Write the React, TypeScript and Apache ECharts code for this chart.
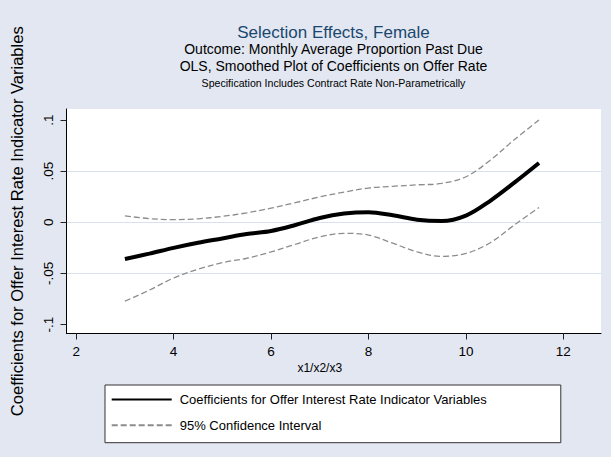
import React, { useEffect, useRef } from "react";
import * as echarts from "echarts";

// ---- data ----
const xValues = [3, 3.5, 4, 4.5, 5, 5.5, 6, 6.5, 7, 7.5, 8, 8.5, 9, 9.5, 10, 10.5, 11, 11.5];
const coefValues = [-0.036, -0.0307, -0.025, -0.02, -0.0158, -0.0115, -0.0085, -0.0027, 0.0042, 0.0085, 0.0098, 0.0068, 0.0025, 0.0012, 0.0065, 0.021, 0.039, 0.058];
const upperCI = [0.0062, 0.0036, 0.0026, 0.0034, 0.0058, 0.0092, 0.0138, 0.0192, 0.0248, 0.0295, 0.0335, 0.0352, 0.0366, 0.038, 0.0445, 0.0607, 0.081, 0.1];
const lowerCI = [-0.0772, -0.0664, -0.0545, -0.046, -0.0395, -0.0352, -0.029, -0.0215, -0.0142, -0.0108, -0.0125, -0.0205, -0.029, -0.0333, -0.0305, -0.02, -0.0025, 0.0145];
const xTicks = [2, 4, 6, 8, 10, 12];
const yTicks = [-0.1, -0.05, 0, 0.05, 0.1];

const titleText = "Selection Effects, Female";
const subtitle1 = "Outcome: Monthly Average Proportion Past Due";
const subtitle2 = "OLS, Smoothed Plot of Coefficients on Offer Rate";
const subtitle3 = "Specification Includes Contract Rate Non-Parametrically";
const xAxisName = "x1/x2/x3";
const coefName = "Coefficients for Offer Interest Rate Indicator Variables";
const ciName = "95% Confidence Interval";

const FONT = "'Liberation Sans', Arial, Helvetica, sans-serif";

const stataFmt = (v: number) => {
  if (Math.abs(v) < 1e-12) return "0";
  const s = String(Math.abs(Math.round(v * 1000) / 1000)).replace(/^0/, "");
  return (v < 0 ? "-" : "") + s;
};

const zip = (ys: number[]) => xValues.map((x, i) => [x, ys[i]]);

export default function App() {
  const ref = useRef<HTMLDivElement>(null);
  useEffect(() => {
    if (!ref.current) return;
    const chart = echarts.init(ref.current, undefined, { renderer: "svg" });
    const titleBase = { left: 333.5, textAlign: "center" as const, padding: 0 };
    chart.setOption({
      animation: false,
      backgroundColor: "#E2E7F1",
      title: [
        { ...titleBase, top: 23.5, text: titleText, textStyle: { fontSize: 17, lineHeight: 17, fontWeight: "normal", color: "#1A476F", fontFamily: FONT } },
        { ...titleBase, top: 41.8, text: subtitle1, textStyle: { fontSize: 14, lineHeight: 14, fontWeight: "normal", color: "#000", fontFamily: FONT } },
        { ...titleBase, top: 58.8, text: subtitle2, textStyle: { fontSize: 14, lineHeight: 14, fontWeight: "normal", color: "#000", fontFamily: FONT } },
        { ...titleBase, top: 78, text: subtitle3, textStyle: { fontSize: 10.6, lineHeight: 10.6, fontWeight: "normal", color: "#000", fontFamily: FONT } },
      ],
      grid: {
        left: 66.5,
        right: 10,
        top: 109,
        bottom: 123.5,
        show: true,
        backgroundColor: "#FFFFFF",
        borderWidth: 0,
      },
      xAxis: {
        type: "value",
        min: 1.801,
        max: 12.773,
        axisLine: { show: true, onZero: false, lineStyle: { color: "#000", width: 1 } },
        axisTick: { show: true, length: 6, customValues: xTicks, lineStyle: { color: "#222" } },
        axisLabel: { customValues: xTicks, margin: 11, fontSize: 13.5, color: "#000", fontFamily: FONT, formatter: (v: number) => String(v) },
        splitLine: { show: false },
        name: xAxisName,
        nameLocation: "middle",
        nameGap: 28,
        nameTextStyle: { fontSize: 12, color: "#000", fontFamily: FONT, padding: [0, 28, 0, 0] },
      },
      yAxis: {
        type: "value",
        min: -0.1088,
        max: 0.1108,
        axisLine: { show: true, onZero: false, lineStyle: { color: "#000", width: 1 } },
        axisTick: { show: true, length: 6, customValues: yTicks, lineStyle: { color: "#222" } },
        axisLabel: { customValues: yTicks, rotate: 90, margin: 11, fontSize: 13.5, color: "#000", fontFamily: FONT, formatter: stataFmt },
        splitLine: { show: true, showMinLine: false, showMaxLine: false, lineStyle: { color: "#D9E0EE", width: 1 } },
        name: coefName,
        nameLocation: "middle",
        nameRotate: 90,
        nameGap: 41,
        nameTextStyle: { fontSize: 16.5, color: "#000", fontFamily: FONT },
      },
      legend: {
        data: [coefName, ciName],
        orient: "vertical",
        left: 105,
        top: 385,
        padding: [8, 74, 11, 5.7],
        itemWidth: 60,
        itemHeight: 14,
        itemGap: 12.7,
        selectedMode: false,
        backgroundColor: "#FFFFFF",
        borderColor: "#333",
        borderWidth: 1,
        borderRadius: 0,
        itemStyle: { opacity: 0 },
        textStyle: { fontSize: 13, color: "#000", fontFamily: FONT, padding: [0, 0, 0, 3] },
      },
      series: [
        {
          name: ciName,
          type: "line",
          data: zip(upperCI),
          smooth: 0.35,
          symbol: "none",
          itemStyle: { color: "#8C8C8C" },
          lineStyle: { color: "#8C8C8C", width: 1.3, type: [6, 3] },
          z: 2,
        },
        {
          name: ciName,
          type: "line",
          data: zip(lowerCI),
          smooth: 0.35,
          symbol: "none",
          itemStyle: { color: "#8C8C8C" },
          lineStyle: { color: "#8C8C8C", width: 1.3, type: [6, 3] },
          z: 2,
        },
        {
          name: coefName,
          type: "line",
          data: zip(coefValues),
          smooth: 0.35,
          symbol: "none",
          itemStyle: { color: "#000" },
          lineStyle: { color: "#000", width: 4 },
          z: 3,
        },
      ],
    });
    return () => chart.dispose();
  }, []);
  return <div ref={ref} style={{ position: "absolute", left: 0, top: 0, width: 611, height: 457 }} />;
}
